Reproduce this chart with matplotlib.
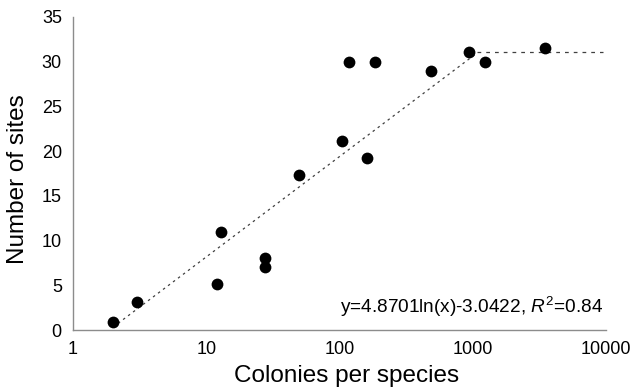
import matplotlib.pyplot as plt
import numpy as np

plt.rcParams['font.family'] = ['Liberation Sans', 'DejaVu Sans']
plt.rcParams['mathtext.fontset'] = 'custom'
plt.rcParams['mathtext.rm'] = 'Liberation Sans'
plt.rcParams['mathtext.it'] = 'Liberation Sans:italic'

# colonies per species vs number of sites
colonies = [2, 3, 12, 12.9, 27.6, 27.6, 50, 104, 118, 186, 160, 489, 937, 1240, 3500]
sites = [0.9, 3.1, 5.2, 11.0, 8.1, 7.1, 17.3, 21.1, 30.0, 30.0, 19.2, 29.0, 31.1, 29.9, 31.5]

# log fit y = a*ln(x) + b, then plateau
a, b = 4.8701, -3.0422
fit_start, fit_end = 2, 1080
plateau_y = 31.1
plateau_end = 9500

fig = plt.figure(figsize=(6.33, 3.92), dpi=100)
ax = fig.add_axes([0.1153, 0.158, 0.842, 0.799])

xf = np.geomspace(fit_start, fit_end, 200)
ax.plot(xf, a * np.log(xf) + b, color='#404040', lw=0.9, ls=(0, (2, 3)))
ax.plot([fit_end, plateau_end], [plateau_y, plateau_y], color='#404040', lw=0.9, ls=(0, (3, 4)))

ax.scatter(colonies, sites, s=72, color='black', zorder=3, linewidths=0)

ax.set_xscale('log')
ax.set_xlim(1, 10000)
ax.set_ylim(0, 35)
ax.set_xticks([1, 10, 100, 1000, 10000])
ax.set_xticklabels(['1', '10', '100', '1000', '10000'])
ax.set_yticks(range(0, 36, 5))
ax.minorticks_off()
ax.tick_params(length=0, labelsize=13, pad=8)

for s in ['top', 'right']:
    ax.spines[s].set_visible(False)
for s in ['left', 'bottom']:
    ax.spines[s].set_color('#8c8c8c')
    ax.spines[s].set_linewidth(1.0)

ax.set_xlabel('Colonies per species', fontsize=17.5)
ax.set_ylabel('Number of sites', fontsize=17.5)
ax.xaxis.set_label_coords(0.514, -0.113, transform=ax.transAxes)
ax.yaxis.set_label_coords(-0.083, 0.482, transform=ax.transAxes)

ax.text(0.995, 0.035, r'y=4.8701ln(x)-3.0422, $R^{2}$=0.84', transform=ax.transAxes,
        ha='right', va='bottom', fontsize=13.7)

fig.savefig('out.png', dpi=100)
